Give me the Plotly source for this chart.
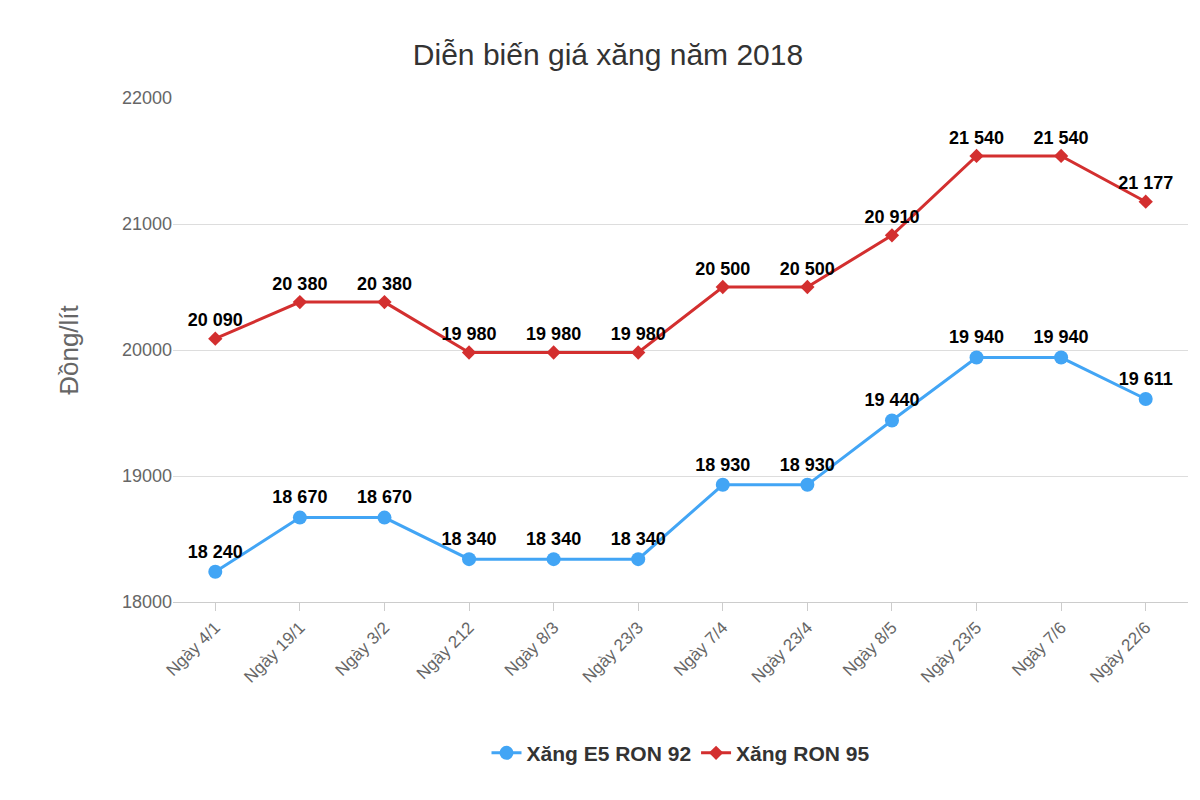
import plotly.graph_objects as go

dates = ["Ngày 4/1", "Ngày 19/1", "Ngày 3/2", "Ngày 212", "Ngày 8/3", "Ngày 23/3",
         "Ngày 7/4", "Ngày 23/4", "Ngày 8/5", "Ngày 23/5", "Ngày 7/6", "Ngày 22/6"]
e5 = [18240, 18670, 18670, 18340, 18340, 18340, 18930, 18930, 19440, 19940, 19940, 19611]
ron95 = [20090, 20380, 20380, 19980, 19980, 19980, 20500, 20500, 20910, 21540, 21540, 21177]


def fmt(v):
    return "<b>" + f"{v:,}".replace(",", " ") + "</b>"


fig = go.Figure()
fig.add_trace(go.Scatter(
    x=dates, y=e5, name="<b>Xăng E5 RON 92</b>", mode="lines+markers+text",
    line=dict(color="#42a5f5", width=3), marker=dict(size=14, color="#42a5f5"),
    text=[fmt(v) for v in e5], textposition="top center",
    textfont=dict(size=18, color="black", family="Liberation Sans"),
))
fig.add_trace(go.Scatter(
    x=dates, y=ron95, name="<b>Xăng RON 95</b>", mode="lines+markers+text",
    line=dict(color="#d32f2f", width=3), marker=dict(size=11, color="#d32f2f", symbol="diamond"),
    text=[fmt(v) for v in ron95], textposition="top center",
    textfont=dict(size=18, color="black", family="Liberation Sans"),
))

fig.update_layout(
    width=1200, height=800,
    title=dict(text="Diễn biến giá xăng năm 2018", x=0.5, xanchor="center", y=0.955,
               font=dict(size=30, color="#333")),
    font=dict(family="Liberation Sans, Arial", color="#555"),
    plot_bgcolor="white", paper_bgcolor="white",
    margin=dict(l=165, r=20, t=90, b=206),
    xaxis=dict(tickangle=-45, tickfont=dict(size=17, color="#666"), showgrid=False,
               showline=True, linecolor="#ccc", ticks="outside", ticklen=8, tickcolor="#ccc",
               range=[-0.5, 11.5]),
    yaxis=dict(title=dict(text="Đồng/lít", font=dict(size=26, color="#666"), standoff=35),
               range=[18000, 22000], dtick=1000, tickformat="d",
               tickfont=dict(size=18, color="#666"), gridcolor="#ddd", zeroline=False),
    legend=dict(orientation="h", x=0.5, xanchor="center", y=-0.30, yanchor="middle",
                font=dict(size=21, color="#333", family="Liberation Sans")),
    showlegend=True,
)

fig.write_html("out.html")
